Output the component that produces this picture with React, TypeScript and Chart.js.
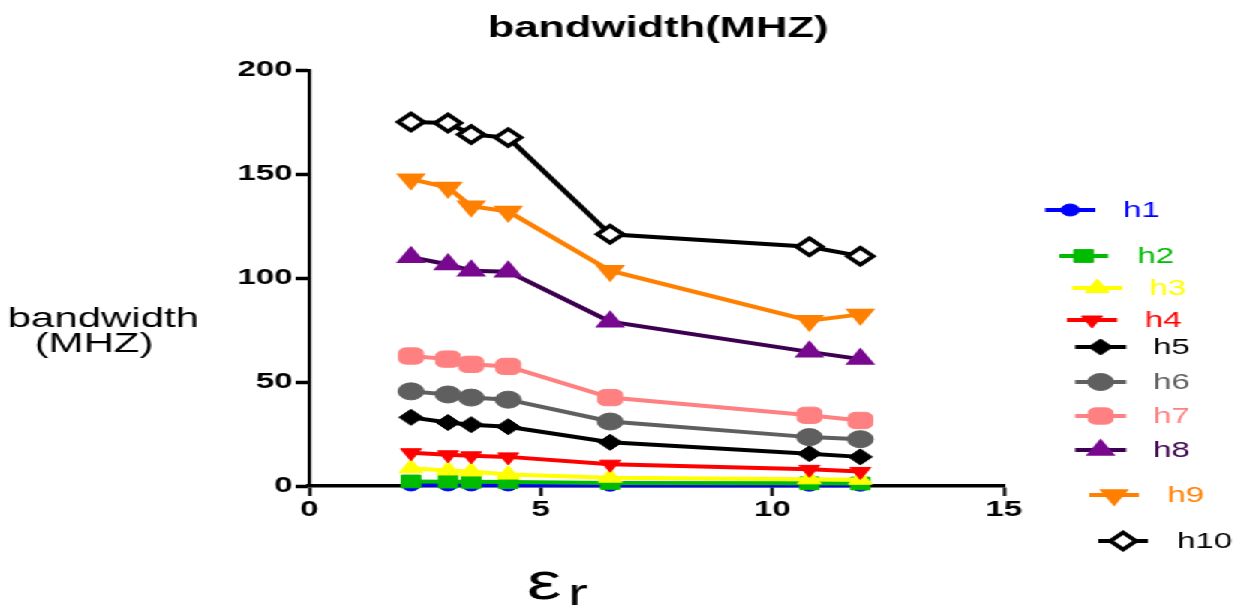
import React, { useEffect, useRef } from 'react';
import { Chart, registerables } from 'chart.js';
import { drawPoint } from 'chart.js/helpers';

Chart.register(...registerables);

// ---------- data ----------
const xValues = [2.2, 3.0, 3.5, 4.3, 6.5, 10.8, 11.9];
const seriesLabels = ['h1', 'h2', 'h3', 'h4', 'h5', 'h6', 'h7', 'h8', 'h9', 'h10'];
const h1 = [0.5, 0.5, 0.5, 0.5, 0.4, 0.4, 0.4];
const h2 = [2.2, 2.1, 2.0, 1.9, 1.5, 1.3, 1.2];
const h3 = [8.5, 7.5, 7, 5.5, 4, 3.2, 3];
const h4 = [16, 15, 14.5, 14, 10.5, 8, 7];
const h5 = [33, 30.5, 29.5, 28.5, 21, 15.5, 14];
const h6 = [45.5, 44, 42.5, 41.5, 31, 23.5, 22.5];
const h7 = [62.5, 61, 58.5, 57.5, 42.5, 34, 31.5];
const h8 = [110, 106.5, 103.5, 103, 79, 64.5, 61];
const h9 = [147.5, 143.5, 134.5, 132, 103.5, 79.5, 82.5];
const h10 = [175, 174.5, 169, 167.5, 121, 115, 110.5];
const seriesValues = [h1, h2, h3, h4, h5, h6, h7, h8, h9, h10];

const xMin = 0, xMax = 15, xStep = 5;
const yMin = 0, yMax = 200, yStep = 50;

const titleText = 'bandwidth(MHZ)';
const yTitleLines = ['bandwidth', '(MHZ)'];
const xTitleMain = 'ε';
const xTitleSub = 'r';

// ---------- styles ----------
const FONT = '"Liberation Sans", Arial, sans-serif';
const W = 825;
const H = 605;
const SX = 1238 / W;

type St = { line: string; fill: string; border: string; bw: number; style: any; r: number; rot: number; text: string };
const styles: St[] = [
  { line: '#0000FF', fill: '#0000FF', border: '#0000FF', bw: 1, style: 'circle', r: 6, rot: 0, text: '#0000FF' },
  { line: '#00BB00', fill: '#00BB00', border: '#00BB00', bw: 1, style: 'rect', r: 9, rot: 0, text: '#00BB00' },
  { line: '#FFFF00', fill: '#FFFF00', border: '#FFFF00', bw: 1, style: 'triangle', r: 9, rot: 0, text: '#FFFF00' },
  { line: '#FF0000', fill: '#FF0000', border: '#FF0000', bw: 1, style: 'triangle', r: 8, rot: 180, text: '#FF0000' },
  { line: '#000000', fill: '#000000', border: '#000000', bw: 1, style: 'rectRot', r: 8, rot: 0, text: '#000000' },
  { line: '#5F5F5F', fill: '#5F5F5F', border: '#5F5F5F', bw: 1, style: 'circle', r: 8.5, rot: 0, text: '#5F5F5F' },
  { line: '#FF8080', fill: '#FF8080', border: '#FF8080', bw: 1, style: 'rectRounded', r: 9.5, rot: 0, text: '#FF8080' },
  { line: '#3D0050', fill: '#78098F', border: '#78098F', bw: 2, style: 'triangle', r: 9.5, rot: 0, text: '#3D0050' },
  { line: '#FF8000', fill: '#FF8000', border: '#FF8000', bw: 2, style: 'triangle', r: 9.5, rot: 180, text: '#FF8000' },
  { line: '#000000', fill: '#FFFFFF', border: '#000000', bw: 3.5, style: 'rectRot', r: 8.5, rot: 0, text: '#000000' },
];

// legend layout (internal canvas coordinates)
const legendPos = [
  { x1: 696.5, x2: 730, y: 210, tx: 748.5 },
  { x1: 706, x2: 738.5, y: 256, tx: 758 },
  { x1: 714.5, x2: 748, y: 288, tx: 766 },
  { x1: 711, x2: 744.5, y: 320, tx: 763 },
  { x1: 716.5, x2: 750.5, y: 347, tx: 768.5 },
  { x1: 716.5, x2: 750.5, y: 382, tx: 768.5 },
  { x1: 716.5, x2: 750.5, y: 416, tx: 768.5 },
  { x1: 716.5, x2: 750.5, y: 450, tx: 768.5 },
  { x1: 726, x2: 759, y: 495, tx: 778 },
  { x1: 732, x2: 765, y: 541, tx: 784.5 },
];

const decor = {
  id: 'decor',
  afterDraw(chart: any) {
    const ctx = chart.ctx as CanvasRenderingContext2D;
    const area = chart.chartArea;
    ctx.save();
    // title
    ctx.fillStyle = '#000';
    ctx.font = `bold 29px ${FONT}`;
    ctx.textAlign = 'center';
    ctx.textBaseline = 'alphabetic';
    ctx.fillText(titleText, (area.left + area.right) / 2 + 1, 37);
    // y title
    ctx.font = `28px ${FONT}`;
    ctx.textAlign = 'left';
    ctx.fillText(yTitleLines[0], 5, 327);
    ctx.fillText(yTitleLines[1], 23, 352);
    // x title
    ctx.font = `52px ${FONT}`;
    ctx.fillText(xTitleMain, 351, 599);
    ctx.font = `40px ${FONT}`;
    ctx.fillText(xTitleSub, 378.5, 607);
    // legend
    ctx.font = `22px ${FONT}`;
    ctx.textBaseline = 'middle';
    chart.data.datasets.forEach((ds: any, i: number) => {
      const p = legendPos[i];
      const s = styles[i];
      ctx.strokeStyle = s.line;
      ctx.lineWidth = 4;
      ctx.beginPath();
      ctx.moveTo(p.x1, p.y);
      ctx.lineTo(p.x2, p.y);
      ctx.stroke();
      ctx.fillStyle = s.fill;
      ctx.strokeStyle = s.border;
      ctx.lineWidth = s.bw;
      drawPoint(ctx, { pointStyle: s.style, rotation: s.rot, radius: s.r, borderWidth: s.bw } as any, (p.x1 + p.x2) / 2, p.y);
      ctx.fillStyle = s.text;
      ctx.fillText(ds.label, p.tx, p.y + 1);
    });
    ctx.restore();
  },
};

export default function App() {
  const ref = useRef<HTMLCanvasElement>(null);
  useEffect(() => {
    document.body.style.overflow = 'hidden';
    const datasets = seriesValues.map((vals, i) => {
      const s = styles[i];
      return {
        label: seriesLabels[i],
        data: vals.map((v, j) => ({ x: xValues[j], y: v })),
        borderColor: s.line,
        borderWidth: 4,
        backgroundColor: s.fill,
        pointBackgroundColor: s.fill,
        pointBorderColor: s.border,
        pointBorderWidth: s.bw,
        pointStyle: s.style,
        pointRadius: s.r,
        pointRotation: s.rot,
        fill: false,
        tension: 0,
        clip: false as any,
        order: 20 - i,
      };
    });
    const chart = new Chart(ref.current as HTMLCanvasElement, {
      type: 'line',
      data: { datasets },
      plugins: [decor],
      options: {
        animation: false,
        responsive: false,
        devicePixelRatio: 1,
        layout: { padding: { left: 146, right: 156, top: 70, bottom: 69 } },
        plugins: {
          legend: { display: false },
          tooltip: { enabled: false },
          title: { display: false },
        },
        scales: {
          x: {
            type: 'linear',
            min: xMin,
            max: xMax,
            afterFit: (s: any) => { s.height = 50; },
            ticks: { stepSize: xStep, color: '#000', font: { family: FONT, size: 22, weight: 'bold' }, padding: 1, maxRotation: 0 },
            grid: { drawOnChartArea: false, drawTicks: true, tickLength: 10, tickWidth: 2.2, tickColor: '#000', color: '#000' },
            border: { color: '#000', width: 3.5 },
          },
          y: {
            type: 'linear',
            min: yMin,
            max: yMax,
            afterFit: (s: any) => { s.width = 60; },
            ticks: { stepSize: yStep, color: '#000', font: { family: FONT, size: 22, weight: 'bold' }, padding: 2 },
            grid: { drawOnChartArea: false, drawTicks: true, tickLength: 9, tickWidth: 3.5, tickColor: '#000', color: '#000' },
            border: { color: '#000', width: 2.3 },
          },
        },
      } as any,
    });
    return () => chart.destroy();
  }, []);
  return (
    <div style={{ position: 'absolute', left: 0, top: 0, width: W, height: H, transform: `scaleX(${SX})`, transformOrigin: '0 0', background: '#fff' }}>
      <canvas ref={ref} width={W} height={H} style={{ width: W, height: H, display: 'block' }} />
    </div>
  );
}
